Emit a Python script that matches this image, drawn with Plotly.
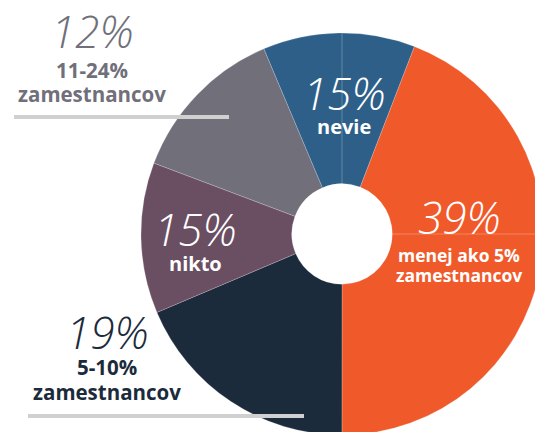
import plotly.graph_objects as go

# slices in clockwise order, starting just right of 12 o'clock
categories = ["menej ako 5% zamestnancov", "5-10% zamestnancov", "nikto",
              "11-24% zamestnancov", "nevie"]
printed_pct = [39, 19, 15, 12, 15]          # numbers printed on the chart
slice_share = [44.1, 18.6, 12.1, 12.9, 12.2]  # arc sizes as drawn
label_lines = [["menej ako 5%", "zamestnancov"], ["5-10%", "zamestnancov"],
               ["nikto"], ["11-24%", "zamestnancov"], ["nevie"]]

colors = ["#F05A2B", "#1C2B3C", "#6A4E62", "#706F7A", "#2D5F88"]

# page is bigger than the window so the pie runs off the right/bottom edge
W, H = 550, 440
L, T, SIDE = 141, 33, 402


def px(x):
    return (x - L) / SIDE


def py(y):
    return 1 - (y - T) / SIDE


fig = go.Figure(go.Pie(
    labels=categories, values=slice_share, sort=False,
    direction="clockwise", rotation=21.1, hole=0.25,
    marker=dict(colors=colors, line=dict(color="rgba(255,255,255,0.25)", width=0.8)),
    textinfo="none", hoverinfo="label", showlegend=False,
))

pct_font = dict(family="Open Sans", size=44, weight=300, style="italic")
lab_font = dict(family="Open Sans", weight=700)

# (pixel centre of the big number, centre of first sub line, line gap, colour, label size)
spots = [
    (459, 217, 255, 20, "white", 17.5),
    (107, 332, 367, 25, "#1C2B3C", 20.5),
    (195, 229, 263, 0, "white", 20),
    (92, 31, 70, 24, "#706F7A", 20.5),
    (344, 93, 127, 0, "white", 20),
]
anns = []
for pct, lines, (cx, cy, ly, gap, col, fs) in zip(printed_pct, label_lines, spots):
    anns.append(dict(x=px(cx), y=py(cy), xref="paper", yref="paper",
                     xanchor="center", yanchor="middle",
                     text=f"{pct}%", showarrow=False,
                     font=dict(pct_font, color=col)))
    for i, ln in enumerate(lines):
        anns.append(dict(x=px(cx), y=py(ly + i * gap), xref="paper", yref="paper",
                         xanchor="center", yanchor="middle",
                         text=ln, showarrow=False,
                         font=dict(lab_font, size=fs, color=col)))

shapes = [
    dict(type="line", xref="paper", yref="paper", x0=px(14), x1=px(229),
         y0=py(117), y1=py(117), line=dict(color="#D0D0D0", width=4)),
    dict(type="line", xref="paper", yref="paper", x0=px(28), x1=px(304),
         y0=py(416), y1=py(416), line=dict(color="#D0D0D0", width=4)),
    dict(type="line", xref="paper", yref="paper", x0=0.5, x1=0.5,
         y0=0.625, y1=1, line=dict(color="rgba(255,255,255,0.25)", width=1)),
    dict(type="line", xref="paper", yref="paper", x0=0.625, x1=1,
         y0=0.5, y1=0.5, line=dict(color="rgba(255,255,255,0.25)", width=1)),
]

fig.update_layout(
    width=W, height=H,
    margin=dict(l=L, r=W - L - SIDE, t=T, b=H - T - SIDE, pad=0),
    paper_bgcolor="white", plot_bgcolor="white",
    annotations=anns, shapes=shapes,
)

fig.write_html(
    "out.html",
    config={"displayModeBar": False},
    post_script="document.body.style.margin='0';"
                "document.body.style.overflow='hidden';"
                "document.documentElement.style.overflow='hidden';",
)
